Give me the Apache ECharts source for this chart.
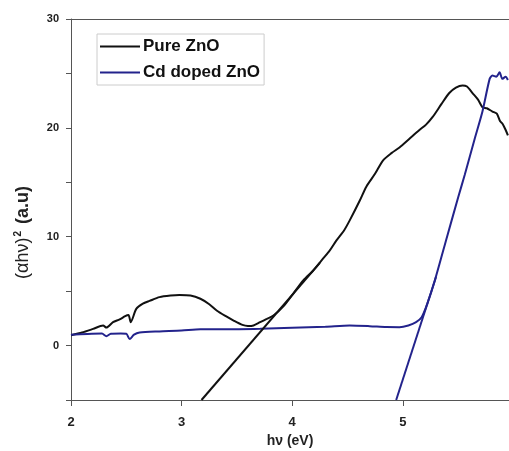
<!DOCTYPE html>
<html>
<head>
<meta charset="utf-8">
<script src="https://cdn.jsdelivr.net/npm/echarts@6/dist/echarts.min.js"></script>
<style>
  html, body { margin: 0; padding: 0; background: #fff; }
  #main { width: 509px; height: 451px; }
</style>
</head>
<body>
<div id="main"></div>
<script>
// Pure ZnO
var pureX = [2.00, 2.10, 2.20, 2.29, 2.32, 2.38, 2.44, 2.49, 2.52, 2.54, 2.59, 2.65, 2.71, 2.80, 2.90, 2.98, 3.08, 3.17, 3.25, 3.32, 3.40, 3.47, 3.55, 3.60, 3.65, 3.71, 3.77, 3.83, 3.92, 4.01, 4.10, 4.19, 4.28, 4.34, 4.40, 4.47, 4.52, 4.61, 4.67, 4.75, 4.82, 4.90, 4.97, 5.06, 5.15, 5.21, 5.27, 5.35, 5.42, 5.48, 5.54, 5.58, 5.63, 5.68, 5.72, 5.76, 5.81, 5.85, 5.88, 5.90, 5.93, 5.95];
var pureY = [0.95, 1.2, 1.53, 1.84, 1.65, 2.15, 2.4, 2.7, 2.8, 2.15, 3.37, 3.85, 4.1, 4.45, 4.6, 4.65, 4.6, 4.3, 3.8, 3.2, 2.7, 2.3, 1.9, 1.8, 1.85, 2.15, 2.45, 2.76, 3.6, 4.78, 5.98, 6.9, 8.0, 8.74, 9.66, 10.6, 11.5, 13.3, 14.6, 15.8, 17.0, 17.7, 18.2, 19.0, 19.8, 20.3, 21.0, 22.2, 23.2, 23.7, 23.9, 23.8, 23.2, 22.6, 21.9, 21.8, 21.5, 21.3, 20.6, 20.4, 19.8, 19.3];

// Cd doped ZnO
var cdX = [2.00, 2.15, 2.28, 2.32, 2.36, 2.45, 2.50, 2.53, 2.57, 2.62, 2.80, 3.00, 3.17, 3.40, 3.71, 4.00, 4.30, 4.52, 4.70, 4.85, 4.97, 5.05, 5.12, 5.17, 5.22, 5.29, 5.40, 5.50, 5.56, 5.65, 5.72, 5.785, 5.81, 5.845, 5.875, 5.90, 5.93, 5.95];
var cdY = [1.0, 1.07, 1.1, 0.86, 1.08, 1.1, 1.08, 0.6, 1.0, 1.2, 1.3, 1.38, 1.5, 1.5, 1.55, 1.63, 1.72, 1.84, 1.78, 1.7, 1.69, 1.85, 2.15, 2.6, 3.8, 6.0, 10.0, 13.6, 15.7, 19.0, 21.5, 24.5, 24.8, 24.7, 25.1, 24.5, 24.7, 24.4];

// tangent lines (band gap extrapolation)
var pureFitX = [3.18, 4.25];
var pureFitY = [-5, 7.6];
var cdFitX = [4.94, 5.30];
var cdFitY = [-5, 6.3];

var yTicks = [0, 10, 20, 30];

function pairs(xs, ys) {
  var out = [];
  for (var i = 0; i < xs.length; i++) out.push([xs[i], ys[i]]);
  return out;
}

var chart = echarts.init(document.getElementById('main'), null, { renderer: 'canvas' });

var axisColor = '#555';
var font = 'Arial, "Liberation Sans", sans-serif';

var option = {
  backgroundColor: '#ffffff',
  animation: false,
  grid: { left: 71, right: 0, top: 19, bottom: 51, outerBoundsMode: 'none' },
  legend: {
    data: ['Pure ZnO', 'Cd doped ZnO'],
    orient: 'vertical',
    left: 97,
    top: 34,
    padding: [4, 4, 4, 3],
    itemGap: 9,
    itemWidth: 40,
    itemHeight: 2,
    icon: 'rect',
    borderColor: '#ccc',
    borderWidth: 1,
    textStyle: { fontFamily: font, fontWeight: 'bold', fontSize: 17, color: '#111', padding: [0, 0, 0, -2] }
  },
  xAxis: [{
    type: 'value',
    position: 'bottom',
    min: 2,
    max: 5.96,
    interval: 1,
    name: 'hν (eV)',
    nameLocation: 'middle',
    nameGap: 33,
    nameTextStyle: { fontFamily: font, fontWeight: 'bold', fontSize: 14, color: '#222' },
    axisLine: { show: true, onZero: false, lineStyle: { color: axisColor, width: 1 } },
    axisTick: { show: true, length: 6, lineStyle: { color: axisColor } },
    splitLine: { show: false },
    axisLabel: {
      margin: 16,
      showMaxLabel: false,
      fontFamily: font,
      fontWeight: 'bold',
      fontSize: 13,
      color: '#222'
    }
  }, {
    type: 'value',
    position: 'top',
    min: 2,
    max: 5.96,
    axisLine: { show: true, onZero: false, lineStyle: { color: axisColor, width: 1 } },
    axisTick: { show: false },
    axisLabel: { show: false },
    splitLine: { show: false }
  }],
  yAxis: [{
    type: 'value',
    min: -5,
    max: 30,
    interval: 5,
    name: '{a|(αhν)}{s|2}{b| (a.u)}',
    nameLocation: 'middle',
    nameRotate: 90,
    nameGap: 38,
    nameTextStyle: {
      padding: [0, 46, 0, 0],
      rich: {
        a: { fontFamily: font, fontSize: 18, color: '#222' },
        s: { fontFamily: font, fontWeight: 'bold', fontSize: 10, color: '#222', verticalAlign: 'top', padding: [0, 2, 10, 1] },
        b: { fontFamily: font, fontWeight: 'bold', fontSize: 18, color: '#222' }
      }
    },
    axisLine: { show: true, onZero: false, lineStyle: { color: axisColor, width: 1 } },
    axisTick: { show: true, length: 5, lineStyle: { color: axisColor } },
    splitLine: { show: false },
    axisLabel: {
      margin: 12,
      fontFamily: font,
      fontWeight: 'bold',
      fontSize: 11,
      color: '#222',
      customValues: yTicks
    }
  }],
  series: [{
    name: 'Pure ZnO',
    type: 'line',
    showSymbol: false,
    smooth: 0.25,
    data: pairs(pureX, pureY),
    itemStyle: { color: '#111111' },
    lineStyle: { color: '#111111', width: 2 }
  }, {
    name: 'Cd doped ZnO',
    type: 'line',
    showSymbol: false,
    smooth: 0.25,
    data: pairs(cdX, cdY),
    itemStyle: { color: '#23238c' },
    lineStyle: { color: '#23238c', width: 2 }
  }, {
    name: 'Pure fit',
    type: 'line',
    showSymbol: false,
    data: pairs(pureFitX, pureFitY),
    lineStyle: { color: '#111111', width: 2 }
  }, {
    name: 'Cd fit',
    type: 'line',
    showSymbol: false,
    data: pairs(cdFitX, cdFitY),
    lineStyle: { color: '#23238c', width: 2 }
  }]
};

chart.setOption(option);
</script>
</body>
</html>
